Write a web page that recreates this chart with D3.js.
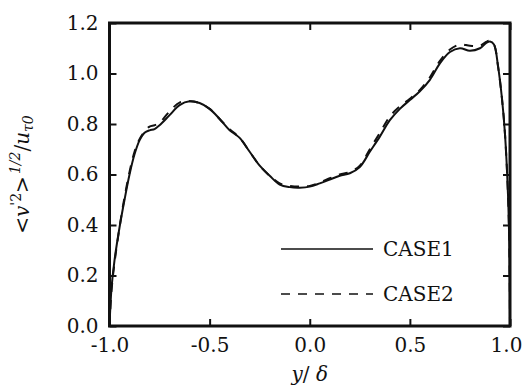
<!DOCTYPE html>
<html>
<head>
<meta charset="utf-8">
<script src="https://cdn.jsdelivr.net/npm/d3@7"></script>
<style>
  body { margin: 0; background: #fff; }
  svg { display: block; font-family: "DejaVu Serif", serif; }
</style>
</head>
<body>
<div id="chart"></div>
<script>
// y/delta positions and rms wall-normal velocity for both cases
const yPos = [-1.0, -0.99, -0.975, -0.95, -0.925, -0.90, -0.875, -0.85, -0.825, -0.80, -0.775, -0.75,
  -0.70, -0.65, -0.60, -0.55, -0.50, -0.45, -0.40, -0.35, -0.30, -0.25, -0.20, -0.15, -0.10, -0.05,
  0.0, 0.05, 0.10, 0.15, 0.20, 0.25, 0.30, 0.35, 0.40, 0.45, 0.50, 0.55, 0.60, 0.65, 0.70, 0.75,
  0.80, 0.85, 0.88, 0.90, 0.92, 0.94, 0.96, 0.975, 0.99, 0.997, 1.0];
const case1 = [0.0, 0.15, 0.26, 0.39, 0.50, 0.60, 0.68, 0.735, 0.765, 0.775, 0.78, 0.795,
  0.835, 0.875, 0.89, 0.883, 0.86, 0.82, 0.775, 0.745, 0.69, 0.635, 0.595, 0.56, 0.55, 0.548,
  0.552, 0.565, 0.58, 0.595, 0.605, 0.63, 0.69, 0.75, 0.815, 0.86, 0.895, 0.93, 0.975, 1.04, 1.085, 1.10,
  1.09, 1.10, 1.12, 1.127, 1.115, 1.03, 0.90, 0.76, 0.52, 0.30, 0.0];
const case2 = [0.0, 0.14, 0.25, 0.39, 0.51, 0.61, 0.69, 0.74, 0.77, 0.79, 0.795, 0.805,
  0.85, 0.885, 0.89, 0.883, 0.86, 0.82, 0.78, 0.745, 0.69, 0.635, 0.595, 0.565, 0.555, 0.552,
  0.555, 0.568, 0.585, 0.60, 0.61, 0.635, 0.70, 0.765, 0.83, 0.87, 0.90, 0.935, 0.985, 1.05, 1.095, 1.115,
  1.11, 1.11, 1.125, 1.13, 1.115, 1.03, 0.90, 0.76, 0.52, 0.30, 0.0];

const xTicks = [-1.0, -0.5, 0.0, 0.5, 1.0];
const xTickLabels = ["-1.0", "-0.5", "0.0", "0.5", "1.0"];
const yTicks = [0.0, 0.2, 0.4, 0.6, 0.8, 1.0, 1.2];
const yTickLabels = ["0.0", "0.2", "0.4", "0.6", "0.8", "1.0", "1.2"];
const seriesNames = ["CASE1", "CASE2"];

const width = 523, height = 387;
const margin = { top: 23, right: 13, bottom: 61, left: 109.5 };

const x = d3.scaleLinear().domain([-1, 1]).range([margin.left, width - margin.right]);
const y = d3.scaleLinear().domain([0, 1.2]).range([height - margin.bottom, margin.top]);

const svg = d3.select("#chart").append("svg")
  .attr("width", width)
  .attr("height", height);

// curves
const line = d3.line()
  .x((d, i) => x(yPos[i]))
  .y(d => y(d))
  .curve(d3.curveCatmullRom.alpha(0.5));

svg.append("path")
  .attr("d", line(case1))
  .attr("fill", "none")
  .attr("stroke", "#111")
  .attr("stroke-width", 2);

svg.append("path")
  .attr("d", line(case2))
  .attr("fill", "none")
  .attr("stroke", "#111")
  .attr("stroke-width", 2)
  .attr("stroke-dasharray", "9,8");

// axes, ticks pointing inward
const fontSize = 20;
svg.append("g")
  .attr("transform", `translate(0, ${y(0)})`)
  .call(d3.axisBottom(x).tickValues(xTicks).tickSize(-7).tickPadding(12)
    .tickFormat((d, i) => xTickLabels[i]));
svg.append("g")
  .attr("transform", `translate(${x(-1)}, 0)`)
  .call(d3.axisLeft(y).tickValues(yTicks).tickSize(-7).tickPadding(11)
    .tickFormat((d, i) => yTickLabels[i]));
svg.append("g")
  .attr("transform", `translate(0, ${y(1.2)})`)
  .call(d3.axisTop(x).tickValues(xTicks).tickSize(-7).tickFormat(""));
svg.append("g")
  .attr("transform", `translate(${x(1)}, 0)`)
  .call(d3.axisRight(y).tickValues(yTicks).tickSize(-7).tickFormat(""));

svg.selectAll(".domain").remove();
svg.selectAll(".tick line").attr("stroke", "#111").attr("stroke-width", 2);
svg.selectAll(".tick text")
  .attr("fill", "#111")
  .style("font-family", "DejaVu Serif, serif")
  .style("font-size", fontSize + "px");
// keep the last x label inside the window
svg.selectAll(".tick text").filter(d => d === 1.0 && !isNaN(d))
  .filter(function () { return this.textContent === "1.0" && this.getAttribute("y") > 0; })
  .attr("dx", -4);

// frame
svg.append("rect")
  .attr("x", x(-1))
  .attr("y", y(1.2))
  .attr("width", x(1) - x(-1))
  .attr("height", y(0) - y(1.2))
  .attr("fill", "none")
  .attr("stroke", "#111")
  .attr("stroke-width", 3);

// x label
const xl = svg.append("text")
  .attr("x", x(0))
  .attr("y", 381)
  .attr("text-anchor", "middle")
  .attr("fill", "#111")
  .style("font-size", "20px");
xl.append("tspan").attr("font-style", "italic").text("y");
xl.append("tspan").text("/ ");
xl.append("tspan").attr("font-style", "italic").text("δ");

// y label
const yl = svg.append("text")
  .attr("transform", `translate(29, ${y(0.6)}) rotate(-90)`)
  .attr("text-anchor", "middle")
  .attr("fill", "#111")
  .style("font-size", "20px");
yl.append("tspan").text("<");
yl.append("tspan").attr("font-style", "italic").text("v");
yl.append("tspan").attr("dy", -8).style("font-size", "14px").text("'2");
yl.append("tspan").attr("dy", 8).text(">");
yl.append("tspan").attr("dy", -9).attr("dx", 2).attr("font-style", "italic").style("font-size", "14px").text("1/2");
yl.append("tspan").attr("dy", 9).text("/");
yl.append("tspan").attr("font-style", "italic").text("u");
yl.append("tspan").attr("dy", 4).attr("font-style", "italic").style("font-size", "14px").text("τ0");

// legend
const legend = svg.append("g");
seriesNames.forEach((name, i) => {
  const ly = 249 + i * 45;
  legend.append("line")
    .attr("x1", 281).attr("x2", 373)
    .attr("y1", ly).attr("y2", ly)
    .attr("stroke", "#111")
    .attr("stroke-width", 1.5)
    .attr("stroke-dasharray", i === 0 ? null : "9,8");
  legend.append("text")
    .attr("x", 383)
    .attr("y", ly + 7)
    .attr("fill", "#111")
    .style("font-size", "20px")
    .text(name);
});
</script>
</body>
</html>
